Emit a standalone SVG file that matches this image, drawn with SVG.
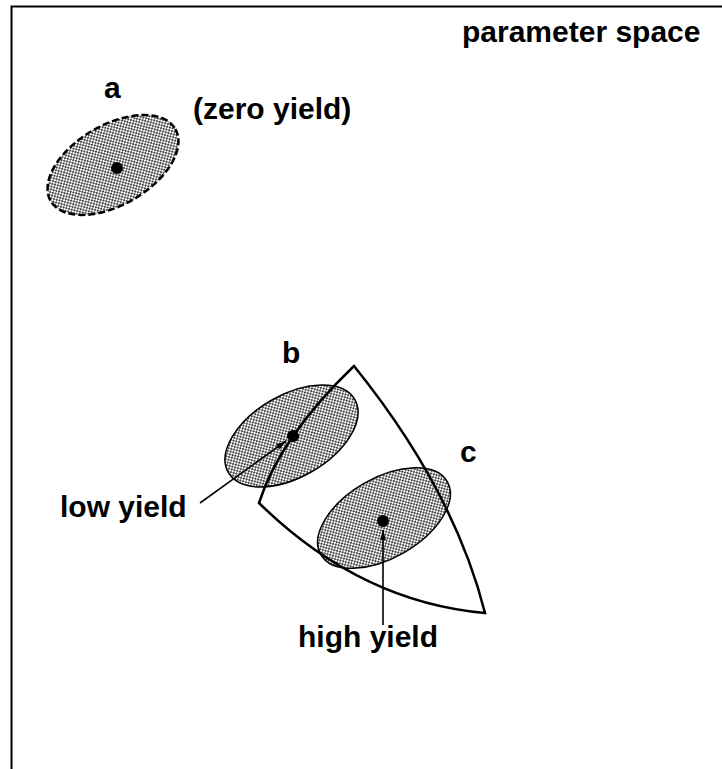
<svg xmlns="http://www.w3.org/2000/svg" width="722" height="769" viewBox="0 0 722 769">
<style>
text{font-family:"Liberation Sans",Arial,sans-serif;font-weight:bold;font-size:30px;fill:#000}
.blob{fill:url(#dots);stroke:#000;stroke-width:1.5}
.dashed{stroke-width:2.5;stroke-dasharray:7 3}
.dot{fill:#000}
.edge{fill:none;stroke:#000;stroke-width:2.5;stroke-linejoin:miter}
.leader{fill:none;stroke:#000;stroke-width:1.6}
</style>
<defs>
<pattern id="dots" width="4" height="4" patternUnits="userSpaceOnUse">
<rect width="4" height="4" fill="#fff"/>
<circle cx="1" cy="1" r="0.95" fill="#000"/>
<circle cx="3" cy="3" r="0.95" fill="#000"/>
</pattern>
<marker id="arr" viewBox="0 0 10 6" refX="10" refY="3" markerWidth="10" markerHeight="6" markerUnits="userSpaceOnUse" orient="auto">
<path d="M0,0 L10,3 L0,6 z" fill="#000"/>
</marker>
</defs>
<path d="M11.5 769 V6.5 H722" fill="none" stroke="#000" stroke-width="2"/>
<text x="462" y="42">parameter space</text>
<g id="region-a">
<ellipse class="blob dashed" cx="113" cy="165" rx="72" ry="40" transform="rotate(-30 113 165)"/>
<circle class="dot" cx="117" cy="168" r="6"/>
<text x="104" y="98">a</text>
<text x="193" y="119">(zero yield)</text>
</g>
<g id="region-b">
<ellipse class="blob" cx="291.5" cy="436" rx="73" ry="41" transform="rotate(-30 291.5 436)"/>
<circle class="dot" cx="293" cy="436" r="6"/>
<text x="282" y="363">b</text>
</g>
<g id="region-c">
<ellipse class="blob" cx="384" cy="518" rx="73" ry="40" transform="rotate(-30 384 518)"/>
<circle class="dot" cx="383" cy="521" r="6"/>
<text x="460" y="462">c</text>
</g>
<g id="feasible-region">
<path class="edge" d="M354 366 Q454 490 485 613 Q360 602 259 503 Q280 437 354 366 Z"/>
</g>
<g id="connectors">
<line class="leader" x1="200" y1="503" x2="286" y2="441" marker-end="url(#arr)"/>
<line class="leader" x1="383" y1="625" x2="383" y2="530" marker-end="url(#arr)"/>
</g>
<g id="labels">
<text x="60" y="517">low yield</text>
<text x="298" y="647">high yield</text>
</g>
</svg>
